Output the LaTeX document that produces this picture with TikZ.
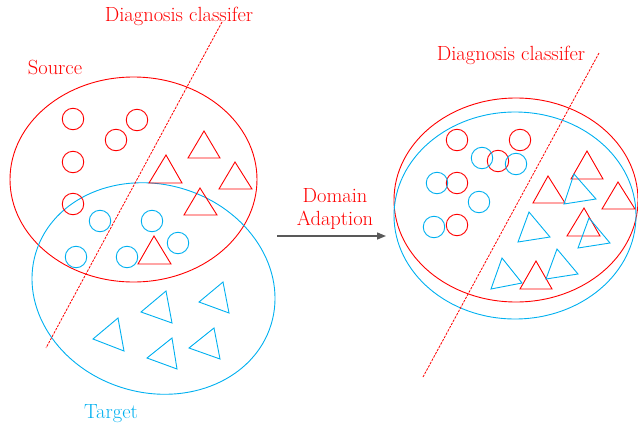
\documentclass[tikz,border=0pt]{standalone}
\usepackage{fontspec}
\usetikzlibrary{arrows.meta}
\definecolor{myred}{RGB}{255,0,0}
\definecolor{myblue}{RGB}{0,176,240}
\definecolor{arrgray}{RGB}{89,89,89}
\tikzset{
  lbl/.style={inner sep=0pt, font=\rmfamily\fontsize{20.5}{23}\selectfont},
  rdot/.style={circle, draw=myred, line width=0.9pt, minimum size=21.5pt, inner sep=0pt},
  bdot/.style={circle, draw=myblue, line width=0.9pt, minimum size=21.5pt, inner sep=0pt},
  rtri/.style={draw=myred, line width=0.9pt, line join=miter},
  btri/.style={draw=myblue, line width=0.9pt, line join=miter},
  rell/.style={draw=myred, line width=0.9pt},
  bell/.style={draw=myblue, line width=0.9pt},
  sep/.style={draw=myred, line width=0.8pt, dash pattern=on 2.5pt off 1.2pt},
}
\begin{document}
\begin{tikzpicture}[x=1pt,y=-1pt]
\useasboundingbox (0,0) rectangle (638,426);

% ---------- left: before adaptation ----------
\draw[rell] (133.5,179.5) ellipse [x radius=123.5pt, y radius=102.5pt];
\draw[bell, rotate around={-17:(153.5,288.5)}] (153.5,288.5) ellipse [x radius=123pt, y radius=104pt];

\node[lbl, text=myred, anchor=base] (srclbl) at (55,74) {Source};
\node[lbl, text=myblue, anchor=base] (tgtlbl) at (111,418) {Target};
\node[lbl, text=myred, anchor=base] (clsL) at (179,21) {Diagnosis classifer};

\coordinate (sLt) at (222,22);
\coordinate (sLb) at (46,348);
\draw[sep] (sLt) -- (sLb);

% red circles
\node[rdot] (lr1) at (73,119) {};
\node[rdot] (lr2) at (137,120) {};
\node[rdot] (lr3) at (116,140) {};
\node[rdot] (lr4) at (73,162) {};
\node[rdot] (lr5) at (73,204) {};
% blue circles
\node[bdot] (lb1) at (100,221) {};
\node[bdot] (lb2) at (152,221) {};
\node[bdot] (lb3) at (178,243) {};
\node[bdot] (lb4) at (76,257) {};
\node[bdot] (lb5) at (127,257) {};
% red triangles
\draw[rtri] (204,131) -- (220,158) -- (188,158) -- cycle;
\draw[rtri] (166,155) -- (182,183) -- (149,183) -- cycle;
\draw[rtri] (235,162) -- (252,189) -- (219,189) -- cycle;
\draw[rtri] (200,188) -- (217,215) -- (184,215) -- cycle;
\draw[rtri] (154,236) -- (171,264) -- (138,264) -- cycle;
% blue triangles
\draw[btri] (166,291) -- (141,312) -- (172,323) -- cycle;
\draw[btri] (223,282) -- (199,302) -- (229,313) -- cycle;
\draw[btri] (118,318) -- (93,339) -- (124,351) -- cycle;
\draw[btri] (172,338) -- (147,358) -- (177,369) -- cycle;
\draw[btri] (214,328) -- (189,348) -- (220,359) -- cycle;

% ---------- arrow ----------
\node[lbl, text=myred, align=center] (da) at (335,209) {Domain\\Adaption};
\coordinate (aS) at (277,236);
\coordinate (aE) at (386,236);
\draw[arrgray, line width=1.4pt, -{Triangle[length=9pt,width=7pt]}] (aS) -- (aE);

% ---------- right: after adaptation ----------
\draw[rell] (516,200) ellipse [x radius=122pt, y radius=102pt];
\draw[bell] (515,215.5) ellipse [x radius=121pt, y radius=103.5pt];

\node[lbl, text=myred, anchor=base] (clsR) at (511,60) {Diagnosis classifer};
\coordinate (sRt) at (599,53);
\coordinate (sRb) at (423,377);
\draw[sep] (sRt) -- (sRb);

% red circles
\node[rdot] (rr1) at (457,140) {};
\node[rdot] (rr2) at (520,140) {};
\node[rdot] (rr3) at (498,161) {};
\node[rdot] (rr4) at (457,183) {};
\node[rdot] (rr5) at (457,225) {};
% blue circles
\node[bdot] (rb1) at (482,158) {};
\node[bdot] (rb2) at (516,164) {};
\node[bdot] (rb3) at (437,183) {};
\node[bdot] (rb4) at (479,202) {};
\node[bdot] (rb5) at (434,227) {};
% red triangles
\draw[rtri] (587,151) -- (603,179) -- (571,179) -- cycle;
\draw[rtri] (548,176) -- (565,203) -- (533,203) -- cycle;
\draw[rtri] (618,182) -- (635,209) -- (602,209) -- cycle;
\draw[rtri] (584,208) -- (600,236) -- (567,236) -- cycle;
\draw[rtri] (536,261) -- (552,289) -- (520,289) -- cycle;
% blue triangles
\draw[btri] (574,174) -- (564,204) -- (596,199) -- cycle;
\draw[btri] (529,212) -- (518,242) -- (550,237) -- cycle;
\draw[btri] (589,218) -- (578,248) -- (610,243) -- cycle;
\draw[btri] (502,258) -- (491,289) -- (522,283) -- cycle;
\draw[btri] (557,249) -- (546,279) -- (578,274) -- cycle;
\end{tikzpicture}
\end{document}
